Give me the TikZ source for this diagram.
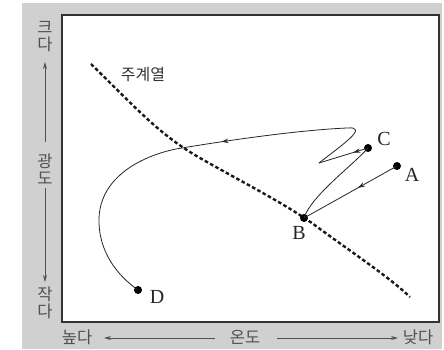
\documentclass[tikz,border=0pt]{standalone}
\usepackage{fontspec}
\setmainfont{Liberation Serif}
\newfontfamily\kr{Noto Sans CJK KR}
\usetikzlibrary{arrows.meta,decorations.markings}
\definecolor{bggray}{RGB}{208,208,208}
\definecolor{axtext}{RGB}{80,80,80}
\definecolor{boxline}{RGB}{50,50,50}
\tikzset{
  evo/.style={line width=0.8pt, black!85},
  arrowat/.style={postaction={decorate}, decoration={markings,
     mark=at position #1 with {\arrow{Stealth[length=7pt,width=4.5pt]}}}},
  stardot/.style={circle, fill=black, inner sep=0pt, minimum size=8pt},
  letter/.style={font=\fontsize{20}{20}\selectfont, text=black!85, inner sep=0pt},
  axlabel/.style={font=\kr\fontsize{16.5}{17}\selectfont, text=axtext, align=center, inner sep=0pt},
  axarrow/.style={line width=0.7pt, axtext, -{Stealth[length=7pt,width=4pt]}},
  msline/.style={line width=2.4pt, dash pattern=on 3.6pt off 2.4pt, black!90},
}
\begin{document}
\begin{tikzpicture}[x=1pt,y=-1pt]
\useasboundingbox (0,0) rectangle (444,350);
\fill[white] (0,0) rectangle (444,350);
\fill[bggray] (22,3) rectangle (442,349);
\fill[white] (62,15) rectangle (439,322);
\draw[boxline, line width=1.2pt] (62,15) rectangle (439,322);

% axis labels
\node[axlabel] (big) at (45,37) {크\\다};
\node[axlabel] (lum) at (45,169) {광\\도};
\node[axlabel] (small) at (45,303) {작\\다};
\node[axlabel] (high) at (77,337) {높다};
\node[axlabel] (temp) at (245,337) {온도};
\node[axlabel] (low) at (418,337) {낮다};
\coordinate (vt) at (45,62);
\coordinate (vb) at (45,282);
\coordinate (hl) at (104,338);
\coordinate (hr) at (398,338);
\draw[axarrow] (45,142) -- (vt);
\draw[axarrow] (45,188) -- (vb);
\draw[axarrow] (215,338) -- (hl);
\draw[axarrow] (277,338) -- (hr);

% main sequence
\draw[msline] (91,64) .. controls (140,112) and (160,135) .. (200,158)
  .. controls (240,181) and (290,206) .. (320,229)
  .. controls (360,258) and (390,278) .. (410,297);
\node[font=\kr\fontsize{16}{16}\selectfont, text=black!80] (ms) at (143,75) {주계열};

% stars
\node[stardot] (A) at (397,166) {};
\node[stardot] (B) at (304,218) {};
\node[stardot] (C) at (368,148) {};
\node[stardot] (D) at (138,290) {};
\node[letter] (lA) at (412,175) {A};
\node[letter] (lB) at (299,233) {B};
\node[letter] (lC) at (384,139) {C};
\node[letter] (lD) at (157,297) {D};

% tracks
\coordinate (zig) at (319,163);
\coordinate (tip) at (347,128);
\coordinate (cross) at (182,148);
\coordinate (left) at (99,218);
\draw[evo, arrowat=0.42] (A.center) -- (B.center);
\draw[evo] (B.center) .. controls (311,196) and (352,166) .. (C.center);
\draw[evo, arrowat=0.3] (C.center) -- (zig);
\draw[evo] (zig) .. controls (342,145) and (370,126) .. (tip);
\draw[evo, arrowat=0.76] (tip) .. controls (300,130) and (230,140) .. (cross);
\draw[evo] (cross) .. controls (160,151) and (101,168) .. (left);
\draw[evo] (left) .. controls (98,252) and (118,276) .. (D.center);
\end{tikzpicture}
\end{document}
